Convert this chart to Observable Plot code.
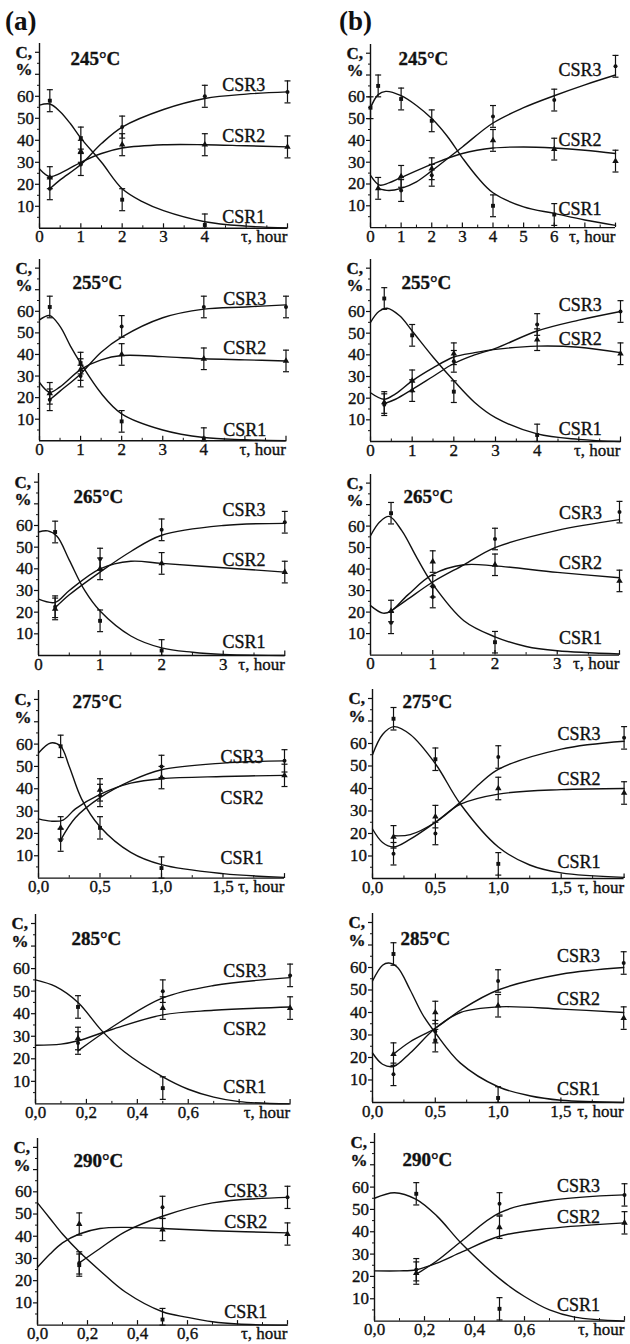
<!DOCTYPE html>
<html><head><meta charset="utf-8">
<script src="https://cdn.jsdelivr.net/npm/d3@7"></script>
<script src="https://cdn.jsdelivr.net/npm/@observablehq/plot@0.6"></script>
<style>
body{margin:0;background:#fff;}
#fig{position:relative;width:630px;height:1344px;overflow:hidden;font-family:"Liberation Serif","Times New Roman",serif;color:#111;background:#fff;}
#fig svg text{stroke:#111;stroke-width:0.35px;}
.panel{position:absolute;}
.tag{position:absolute;font-weight:bold;font-size:27px;line-height:1;}
</style></head><body>
<div id="fig"><div class="tag" style="left:5px;top:8px">(a)</div><div class="tag" style="left:339px;top:8px">(b)</div></div>
<script>
// ---- tick labels ----
const yLabelTicks = [10,20,30,40,50,60];
const yExtraTicks = [70,80];
const yMinorTicks = [5,15,25,35,45,55,65,75];
const ticks0to3 = [0,1,2,3];
const ticks0to4 = [0,1,2,3,4];
const ticks0to6 = [0,1,2,3,4,5,6];
const ticks0to15 = [0,0.5,1,1.5];
const ticks0to06 = [0,0.2,0.4,0.6];
const ERR = 5;

// ---- measured points [series, t (hour), C (%)] and fitted curves ----
const pts245a = [["CSR1",0.25,58],["CSR1",1,41],["CSR1",2,13],["CSR1",4,1.5],
 ["CSR2",0.25,23],["CSR2",1,35],["CSR2",2,38],["CSR2",4,38],["CSR2",6,37],
 ["CSR3",0.25,18],["CSR3",1,29],["CSR3",2,46],["CSR3",4,60],["CSR3",6,62]];
const fit245a = [["CSR1",0,56],["CSR1",0.25,56.5],["CSR1",0.5,53],["CSR1",0.75,47.5],["CSR1",1,41],["CSR1",1.5,30],["CSR1",2,18],["CSR1",2.5,12],["CSR1",3,8],["CSR1",4,3],["CSR1",5,1],["CSR1",6,0.2],
 ["CSR2",0,27],["CSR2",0.25,23.5],["CSR2",0.5,25],["CSR2",1,30],["CSR2",1.5,34],["CSR2",2,36.5],["CSR2",3,38],["CSR2",4,38],["CSR2",5,37.5],["CSR2",6,37],
 ["CSR3",0.25,18],["CSR3",0.5,22],["CSR3",1,29],["CSR3",1.5,38.5],["CSR3",2,46],["CSR3",3,54],["CSR3",4,59],["CSR3",5,61],["CSR3",6,62]];

const pts245b = [["CSR1",0,55],["CSR1",0.25,65],["CSR1",1,59],["CSR1",2,49],["CSR1",4,10],["CSR1",6,6],
 ["CSR2",0.25,18],["CSR2",1,23.5],["CSR2",2,27],["CSR2",4,40],["CSR2",6,36],["CSR2",8,30.5],
 ["CSR3",1,17],["CSR3",2,24],["CSR3",4,51],["CSR3",6,58.5],["CSR3",8,74]];
const fit245b = [["CSR1",0,55],["CSR1",0.25,61],["CSR1",0.5,62.5],["CSR1",1,60.5],["CSR1",1.5,56],["CSR1",2,50],["CSR1",2.5,42],["CSR1",3,32],["CSR1",3.5,23],["CSR1",4,16],["CSR1",5,9.5],["CSR1",6,6.5],["CSR1",7,3.5],["CSR1",8,1],
 ["CSR2",0,24],["CSR2",0.3,19.5],["CSR2",0.6,20.5],["CSR2",1,23],["CSR2",2,29],["CSR2",3,34],["CSR2",4,36.5],["CSR2",5,37],["CSR2",6,36.5],["CSR2",7,35.5],["CSR2",8,34],
 ["CSR3",0.25,18],["CSR3",0.6,17],["CSR3",1,18],["CSR3",1.5,21],["CSR3",2,26],["CSR3",3,37],["CSR3",4,48],["CSR3",5,55],["CSR3",6,60.5],["CSR3",7,65.5],["CSR3",8,70]];

const pts255a = [["CSR1",0.25,62],["CSR1",1,36],["CSR1",2,9],["CSR1",4,1],
 ["CSR2",0.25,22],["CSR2",1,33],["CSR2",2,40],["CSR2",4,38],["CSR2",6,37],
 ["CSR3",0.25,19],["CSR3",1,30],["CSR3",2,53],["CSR3",4,62],["CSR3",6,62]];
const fit255a = [["CSR1",0,56],["CSR1",0.25,58],["CSR1",0.5,53],["CSR1",0.75,44],["CSR1",1,36],["CSR1",1.5,22],["CSR1",2,12.5],["CSR1",3,5],["CSR1",4,1.5],["CSR1",5,0.5],["CSR1",6,0],
 ["CSR2",0,27],["CSR2",0.25,22.5],["CSR2",0.5,25],["CSR2",1,33],["CSR2",1.5,37.5],["CSR2",2,39.5],["CSR2",3,39],["CSR2",4,38],["CSR2",5,37.5],["CSR2",6,37],
 ["CSR3",0.25,19],["CSR3",0.5,23],["CSR3",1,31],["CSR3",1.5,41],["CSR3",2,48],["CSR3",3,57],["CSR3",4,61],["CSR3",5,62],["CSR3",6,63]];

const pts255b = [["CSR1",0.33,66],["CSR1",1,49],["CSR1",2,23],["CSR1",4,3],
 ["CSR2",0.33,18],["CSR2",1,28],["CSR2",2,40.5],["CSR2",4,47],["CSR2",6,40.5],
 ["CSR3",0.33,17],["CSR3",1,23.5],["CSR3",2,37],["CSR3",4,54],["CSR3",6,60]];
const fit255b = [["CSR1",0,55],["CSR1",0.2,60],["CSR1",0.4,61.5],["CSR1",0.7,58],["CSR1",1,51],["CSR1",1.5,39],["CSR1",2,28],["CSR1",2.5,18],["CSR1",3,11],["CSR1",4,3.5],["CSR1",5,1],["CSR1",6,0],
 ["CSR2",0,22.5],["CSR2",0.33,19.5],["CSR2",0.6,22],["CSR2",1,28],["CSR2",1.5,34],["CSR2",2,39],["CSR2",2.5,41],["CSR2",3,42.5],["CSR2",4,44],["CSR2",5,43.5],["CSR2",6,41],
 ["CSR3",0.33,17.5],["CSR3",0.6,19.5],["CSR3",1,24],["CSR3",1.5,30],["CSR3",2,36],["CSR3",2.5,40],["CSR3",3,43],["CSR3",4,51],["CSR3",5,56],["CSR3",6,60]];

const pts265a = [["CSR1",0.27,57],["CSR1",1,16],["CSR1",2,2.3],
 ["CSR2",0.27,21.5],["CSR2",1,40],["CSR2",2,42.5],["CSR2",4,38.5],
 ["CSR3",0.27,22.5],["CSR3",1,44.5],["CSR3",2,58],["CSR3",4,61.5]];
const fit265a = [["CSR1",0,57],["CSR1",0.15,57.5],["CSR1",0.3,55],["CSR1",0.5,44],["CSR1",0.75,30],["CSR1",1,20.5],["CSR1",1.5,9],["CSR1",2,3.5],["CSR1",2.5,1.5],["CSR1",3,0.5],["CSR1",4,0],
 ["CSR2",0,26],["CSR2",0.27,24.5],["CSR2",0.5,30],["CSR2",1,40],["CSR2",1.5,43.5],["CSR2",2,42.5],["CSR2",3,40.5],["CSR2",4,38.5],
 ["CSR3",0.27,22],["CSR3",0.5,28],["CSR3",1,38.5],["CSR3",1.5,48],["CSR3",2,55.5],["CSR3",3,60],["CSR3",4,61]];

const pts265b = [["CSR1",0.33,66],["CSR1",1,32],["CSR1",2,6],
 ["CSR2",0.33,20.5],["CSR2",1,43.5],["CSR2",2,42],["CSR2",4,34.5],
 ["CSR3",0.33,15],["CSR3",1,27],["CSR3",2,54],["CSR3",4,66.5]];
const fit265b = [["CSR1",0,55.5],["CSR1",0.15,62],["CSR1",0.3,64.5],["CSR1",0.5,58],["CSR1",0.75,45],["CSR1",1,33],["CSR1",1.5,16],["CSR1",2,8.5],["CSR1",2.5,4],["CSR1",3,2],["CSR1",4,0.5],
 ["CSR2",0,23],["CSR2",0.2,19.5],["CSR2",0.33,20.5],["CSR2",0.6,28],["CSR2",1,37.5],["CSR2",1.5,42],["CSR2",2,41.5],["CSR2",3,38.5],["CSR2",4,36],
 ["CSR3",0.33,20.5],["CSR3",0.6,26],["CSR3",1,34],["CSR3",1.5,42],["CSR3",2,50],["CSR3",3,58],["CSR3",4,63]];

const pts275a = [["CSR1",0.18,59],["CSR1",0.5,22.5],["CSR1",1,4.5],
 ["CSR2",0.18,22.5],["CSR2",0.5,39.5],["CSR2",1,45],["CSR2",2,46],
 ["CSR3",0.18,17],["CSR3",0.5,37],["CSR3",1,50],["CSR3",2,52.5]];
const fit275a = [["CSR1",0,56],["CSR1",0.1,60.5],["CSR1",0.18,59],["CSR1",0.25,50],["CSR1",0.35,35.5],["CSR1",0.5,23],["CSR1",0.75,11.5],["CSR1",1,6],["CSR1",1.5,2],["CSR1",2,0.3],
 ["CSR2",0,26.5],["CSR2",0.1,25.5],["CSR2",0.2,26],["CSR2",0.3,31],["CSR2",0.5,37.5],["CSR2",0.75,42.5],["CSR2",1,44.5],["CSR2",1.5,45.5],["CSR2",2,46],
 ["CSR3",0.18,17],["CSR3",0.3,27],["CSR3",0.5,36],["CSR3",0.75,43.5],["CSR3",1,48.5],["CSR3",1.5,51.5],["CSR3",2,52.5]];

const pts275b = [["CSR1",0.167,71],["CSR1",0.5,53],["CSR1",1,6.5],
 ["CSR2",0.167,18.5],["CSR2",0.5,27.5],["CSR2",1,40],["CSR2",2,38],
 ["CSR3",0.167,11],["CSR3",0.5,20],["CSR3",1,54],["CSR3",2,62.5]];
const fit275b = [["CSR1",0,55],["CSR1",0.08,64],["CSR1",0.17,67.5],["CSR1",0.3,64],["CSR1",0.5,51],["CSR1",0.7,33],["CSR1",1,14],["CSR1",1.25,6],["CSR1",1.5,2.5],["CSR1",2,0.5],
 ["CSR2",0,22],["CSR2",0.08,16],["CSR2",0.167,14],["CSR2",0.3,17.5],["CSR2",0.5,25],["CSR2",0.7,33],["CSR2",1,37.5],["CSR2",1.5,39.5],["CSR2",2,40],
 ["CSR3",0.167,19],["CSR3",0.3,19.5],["CSR3",0.5,25],["CSR3",0.7,34],["CSR3",0.85,42],["CSR3",1,48.5],["CSR3",1.5,57.5],["CSR3",2,61]];

const pts285a = [["CSR1",0.167,43],["CSR1",0.5,7],
 ["CSR2",0.167,29],["CSR2",0.5,42.5],["CSR2",1,42.5],
 ["CSR3",0.167,27],["CSR3",0.5,50],["CSR3",1,57]];
const fit285a = [["CSR1",0,55],["CSR1",0.08,52],["CSR1",0.167,45],["CSR1",0.26,32.5],["CSR1",0.35,23],["CSR1",0.5,12],["CSR1",0.6,6.5],["CSR1",0.7,3],["CSR1",0.8,1],["CSR1",1,0],
 ["CSR2",0,26],["CSR2",0.1,26.5],["CSR2",0.167,28],["CSR2",0.3,33],["CSR2",0.5,39.5],["CSR2",0.7,41.5],["CSR2",1,43],
 ["CSR3",0.167,23.5],["CSR3",0.3,34],["CSR3",0.5,47],["CSR3",0.7,52.5],["CSR3",1,56]];

const pts285b = [["CSR1",0.167,66],["CSR1",0.5,27.5],["CSR1",1,2],
 ["CSR2",0.167,21.5],["CSR2",0.5,40],["CSR2",1,43],["CSR2",2,37.5],
 ["CSR3",0.167,12.5],["CSR3",0.5,31.5],["CSR3",1,54],["CSR3",2,62]];
const fit285b = [["CSR1",0,54],["CSR1",0.08,61],["CSR1",0.13,62],["CSR1",0.2,60],["CSR1",0.3,50],["CSR1",0.4,39],["CSR1",0.5,31],["CSR1",0.7,17.5],["CSR1",1,7],["CSR1",1.25,3],["CSR1",1.5,1],["CSR1",2,0],
 ["CSR2",0,22],["CSR2",0.08,17],["CSR2",0.167,16],["CSR2",0.3,22],["CSR2",0.5,33],["CSR2",0.7,40],["CSR2",1,42.5],["CSR2",1.5,41.5],["CSR2",2,40],
 ["CSR3",0.167,21.5],["CSR3",0.3,27],["CSR3",0.5,33],["CSR3",0.7,41],["CSR3",1,50],["CSR3",1.5,57],["CSR3",2,60]];

const pts290a = [["CSR1",0.167,27],["CSR1",0.5,2.5],
 ["CSR2",0.167,45.5],["CSR2",0.5,43],["CSR2",1,41],
 ["CSR3",0.167,28],["CSR3",0.5,53],["CSR3",1,57.5]];
const fit290a = [["CSR1",0,55],["CSR1",0.05,48],["CSR1",0.1,41],["CSR1",0.167,33],["CSR1",0.25,24.5],["CSR1",0.35,15],["CSR1",0.5,6],["CSR1",0.6,3.5],["CSR1",0.7,1.5],["CSR1",0.8,0.5],["CSR1",1,0],
 ["CSR2",0,26],["CSR2",0.05,32],["CSR2",0.1,37],["CSR2",0.167,41],["CSR2",0.25,43.5],["CSR2",0.35,44],["CSR2",0.5,43.5],["CSR2",0.7,42.5],["CSR2",1,41.5],
 ["CSR3",0.167,28],["CSR3",0.25,34.5],["CSR3",0.35,42],["CSR3",0.5,49],["CSR3",0.7,55],["CSR3",1,57.5]];

const pts290b = [["CSR1",0.167,57],["CSR1",0.5,5.5],
 ["CSR2",0.167,21.5],["CSR2",0.5,42],["CSR2",1,44],
 ["CSR3",0.167,23],["CSR3",0.5,52.5],["CSR3",1,56.5]];
const fit290b = [["CSR1",0,55],["CSR1",0.08,57.5],["CSR1",0.167,54.5],["CSR1",0.25,47],["CSR1",0.35,34.5],["CSR1",0.5,19],["CSR1",0.6,11],["CSR1",0.7,5],["CSR1",0.8,1.8],["CSR1",1,0],
 ["CSR2",0,22.5],["CSR2",0.1,22.5],["CSR2",0.167,23],["CSR2",0.25,26],["CSR2",0.35,31],["CSR2",0.5,38],["CSR2",0.7,41.5],["CSR2",1,44],
 ["CSR3",0.167,21],["CSR3",0.25,27],["CSR3",0.35,36],["CSR3",0.5,48.5],["CSR3",0.7,54],["CSR3",1,56.5]];

// ---- layout of the 12 panels (frame in page px: left, right, top(C=84), bottom(C=0)) ----
const panels = [
 {temp:"245°C", frame:[39,287,42.9,227.7], xmax:6, step:1, xl:ticks0to4, pts:pts245a, fit:fit245a, lab:[["CSR3",4.42,65],["CSR2",4.42,42],["CSR1",4.42,5]], tpos:[31,77]},
 {temp:"245°C", frame:[370,615,44.4,227.5], xmax:8, step:1, xl:ticks0to6, pts:pts245b, fit:fit245b, lab:[["CSR3",6.14,72],["CSR2",6.14,40],["CSR1",6.14,8.3]], tpos:[28,77.6]},
 {temp:"255°C", frame:[38.5,285,259.2,440.5], xmax:6, step:1, xl:ticks0to4, pts:pts255a, fit:fit255a, lab:[["CSR3",4.47,65.5],["CSR2",4.47,42.7],["CSR1",4.47,4.9]], tpos:[33,73]},
 {temp:"255°C", frame:[370,620,259,441], xmax:6, step:1, xl:ticks0to4, pts:pts255b, fit:fit255b, lab:[["CSR3",4.52,62.8],["CSR2",4.52,47.4],["CSR1",4.52,5.5]], tpos:[31,73]},
 {temp:"265°C", frame:[37.7,284,473,655], xmax:4, step:1, xl:ticks0to3, pts:pts265a, fit:fit265a, lab:[["CSR3",2.99,67],["CSR2",2.99,44],["CSR1",2.99,5.9]], tpos:[35,73]},
 {temp:"265°C", frame:[370,619,474.4,655], xmax:4, step:1, xl:ticks0to3, pts:pts265b, fit:fit265b, lab:[["CSR3",3.03,65.9],["CSR2",3.03,42.6],["CSR1",3.03,7.8]], tpos:[33,73.5]},
 {temp:"275°C", frame:[38,284,690.4,878], xmax:2, step:0.5, xl:ticks0to15, pts:pts275a, fit:fit275a, lab:[["CSR3",1.48,54.2],["CSR2",1.48,35.6],["CSR1",1.48,9]], tpos:[34,78.7]},
 {temp:"275°C", frame:[371.7,623.3,689,878], xmax:2, step:0.5, xl:ticks0to15, pts:pts275b, fit:fit275b, lab:[["CSR3",1.47,64.3],["CSR2",1.47,44.3],["CSR1",1.47,7.3]], tpos:[30,78.7]},
 {temp:"285°C", frame:[35,289.6,913.6,1103], xmax:1, step:0.2, xl:ticks0to06, pts:pts285a, fit:fit285a, lab:[["CSR3",0.737,58.7],["CSR2",0.737,33.2],["CSR1",0.737,7.2]], tpos:[36,73]},
 {temp:"285°C", frame:[372.3,623.5,912.7,1101.7], xmax:2, step:0.5, xl:ticks0to15, pts:pts285b, fit:fit285b, lab:[["CSR3",1.47,64.9],["CSR2",1.47,46],["CSR1",1.47,6]], tpos:[28,72.6]},
 {temp:"290°C", frame:[37.3,287.3,1138.4,1325], xmax:1, step:0.2, xl:ticks0to06, pts:pts290a, fit:fit290a, lab:[["CSR3",0.747,60.4],["CSR2",0.747,46.4],["CSR1",0.747,6]], tpos:[36,74]},
 {temp:"290°C", frame:[374.3,624.3,1133.1,1320.7], xmax:1, step:0.2, xl:ticks0to06, pts:pts290b, fit:fit290b, lab:[["CSR3",0.73,60.4],["CSR2",0.73,46.6],["CSR1",0.73,7]], tpos:[28,72]}
];

const INK = "#111";
const YMAX = 84;
const cap = {draw(ctx, size) { const w = Math.sqrt(size / Math.PI); ctx.moveTo(-w, 0); ctx.lineTo(w, 0); }};
const T = d => d[1], C = d => d[2];
const fig = document.getElementById("fig");

for (const p of panels) {
  const [L, R, Tp, B] = p.frame;
  const ML = 36, MR = 6, MT = 4, MB = 24;
  const innerH = B - Tp;
  const majors = d3.range(0, p.xmax + 1e-9, p.step);
  const minors = d3.range(p.step / 2, p.xmax, p.step);
  const fmt = p.step < 1 ? d => d.toFixed(1).replace(".", ",") : d => String(d);
  const bySeries = s => p.pts.filter(d => d[0] === s);
  const svg = Plot.plot({
    width: ML + (R - L) + MR,
    height: MT + innerH + MB,
    marginLeft: ML, marginRight: MR, marginTop: MT, marginBottom: MB,
    x: {domain: [0, p.xmax], axis: null},
    y: {domain: [0, YMAX], axis: null},
    style: {fontFamily: '"Liberation Serif", "Times New Roman", serif', fontSize: "17px", color: INK, background: "none", overflow: "visible"},
    marks: [
      Plot.ruleX([0], {stroke: INK, strokeWidth: 1.4}),
      Plot.ruleY([0], {stroke: INK, strokeWidth: 1.4}),
      Plot.tickX(majors, {x: d => d, insetTop: innerH - 4.5, stroke: INK, strokeWidth: 1.2}),
      Plot.tickX(minors, {x: d => d, insetTop: innerH - 2.5, stroke: INK}),
      Plot.axisX(p.xl, {tickSize: 0, tickPadding: 2, tickFormat: fmt, label: null, fill: INK}),
      Plot.axisY(yLabelTicks, {tickSize: 4, tickPadding: 1.5, label: null, fill: INK, stroke: INK, strokeWidth: 1.2}),
      Plot.axisY(yExtraTicks, {tickSize: 4, tickFormat: () => "", label: null, stroke: INK, strokeWidth: 1.2}),
      Plot.axisY(yMinorTicks, {tickSize: 2, tickFormat: () => "", label: null, stroke: INK}),
      Plot.text(["τ, hour"], {frameAnchor: "bottom-right", lineAnchor: "top", dy: 2, textAnchor: "end", fill: INK}),
      Plot.text([{s: "C,", v: 80}, {s: "%", v: 72}], {frameAnchor: "left", y: "v", text: "s", dx: -24, textAnchor: "start", fontWeight: "bold", fontSize: 17, fill: INK}),
      Plot.text([p.temp], {frameAnchor: "left", y: () => p.tpos[1], dx: p.tpos[0], textAnchor: "start", fontWeight: "bold", fontSize: 19, fill: INK}),
      Plot.line(p.fit, {x: T, y: C, z: d => d[0], curve: "catmull-rom", stroke: INK, strokeWidth: 1.4}),
      Plot.ruleX(p.pts, {x: T, y1: d => Math.max(0, d[2] - ERR), y2: d => d[2] + ERR, stroke: INK, strokeWidth: 1.2}),
      Plot.dot(p.pts, {x: T, y: d => Math.max(0, d[2] - ERR), symbol: cap, r: 3, stroke: INK, strokeWidth: 1.2}),
      Plot.dot(p.pts, {x: T, y: d => d[2] + ERR, symbol: cap, r: 3, stroke: INK, strokeWidth: 1.2}),
      Plot.dot(bySeries("CSR1"), {x: T, y: C, symbol: "square", r: 2.2, fill: INK}),
      Plot.dot(bySeries("CSR2"), {x: T, y: C, symbol: "triangle", r: 2.4, fill: INK}),
      Plot.dot(bySeries("CSR3"), {x: T, y: C, symbol: "circle", r: 2, fill: INK}),
      Plot.text(p.lab, {x: T, y: C, text: d => d[0], textAnchor: "start", fontSize: 18, fill: INK})
    ]
  });
  svg.classList.add("panel");
  svg.style.left = (L - ML) + "px";
  svg.style.top = (Tp - MT) + "px";
  svg.style.position = "absolute";
  fig.appendChild(svg);
}
</script>
</body></html>
